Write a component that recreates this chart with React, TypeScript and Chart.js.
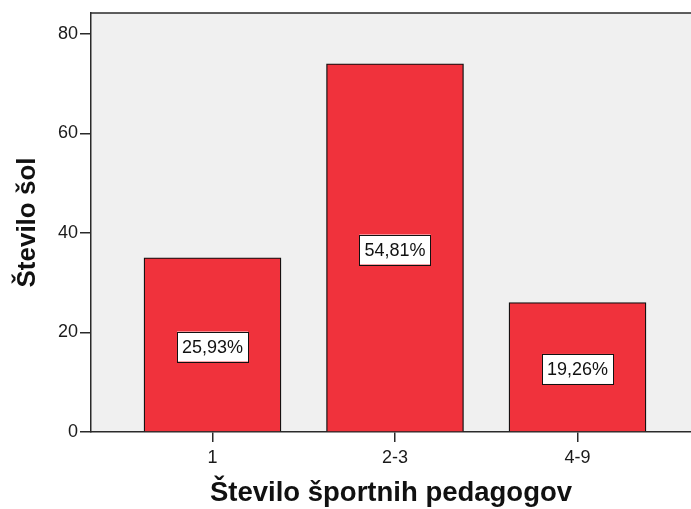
import React, { useEffect, useRef } from "react";
import { Chart, registerables } from "chart.js";

Chart.register(...registerables);

const categories = ["1", "2-3", "4-9"];
const counts = [35, 74, 26];
const percentLabels = ["25,93%", "54,81%", "19,26%"];
const yTicks = [0, 20, 40, 60, 80];
const xTitle = "Število športnih pedagogov";
const yTitle = "Število šol";

const FONT = "'Liberation Sans', Arial, sans-serif";

const backgroundPlugin = {
  id: "plotBg",
  beforeDraw(chart: any) {
    const { ctx, chartArea } = chart;
    ctx.save();
    ctx.fillStyle = "#f0f0f0";
    ctx.fillRect(chartArea.left, chartArea.top, chartArea.right - chartArea.left, chartArea.bottom - chartArea.top);
    ctx.strokeStyle = "#2a2a2a";
    ctx.lineWidth = 1.5;
    ctx.beginPath();
    ctx.moveTo(chartArea.left, chartArea.top);
    ctx.lineTo(chartArea.right, chartArea.top);
    ctx.stroke();
    ctx.restore();
  },
};

const labelPlugin = {
  id: "pctLabels",
  afterDatasetsDraw(chart: any) {
    const { ctx } = chart;
    const meta = chart.getDatasetMeta(0);
    ctx.save();
    ctx.font = `18px ${FONT}`;
    ctx.textAlign = "center";
    ctx.textBaseline = "middle";
    meta.data.forEach((bar: any, i: number) => {
      const text = percentLabels[i];
      const cx = bar.x;
      const cy = (bar.y + bar.base) / 2 + 2;
      const w = ctx.measureText(text).width + 10;
      const h = 30;
      ctx.fillStyle = "#ffffff";
      ctx.fillRect(cx - w / 2, cy - h / 2, w, h);
      ctx.strokeStyle = "#111";
      ctx.lineWidth = 1;
      ctx.strokeRect(Math.round(cx - w / 2) + 0.5, Math.round(cy - h / 2) + 0.5, Math.round(w), h);
      ctx.fillStyle = "#111";
      ctx.fillText(text, cx, cy + 1);
    });
    ctx.restore();
  },
};

export default function App() {
  const ref = useRef<HTMLCanvasElement | null>(null);
  useEffect(() => {
    if (!ref.current) return;
    const chart = new Chart(ref.current, {
      type: "bar",
      data: {
        datasets: [
          {
            data: counts.map((v, i) => ({ x: i, y: v })),
            backgroundColor: "#f0323c",
            borderColor: "#111",
            borderWidth: 1.3,
            barThickness: 137,
          },
        ],
      },
      options: {
        animation: false,
        responsive: false,
        layout: { padding: { top: 13, left: 0, right: 0, bottom: 0 } },
        plugins: { legend: { display: false }, tooltip: { enabled: false } },
        scales: {
          x: {
            type: "linear",
            offset: false,
            min: (91 - 212.5) / 182.5,
            max: (691 - 212.5) / 182.5,
            afterBuildTicks: (s: any) => {
              s.ticks = categories.map((_, i) => ({ value: i }));
            },
            afterFit: (s: any) => {
              s.height = 77;
            },
            grid: { offset: false, drawOnChartArea: false, drawTicks: true, tickLength: 10, color: "#2a2a2a", lineWidth: 1.5 },
            border: { color: "#2a2a2a", width: 1.5 },
            ticks: {
              padding: 5,
              color: "#1a1a1a",
              font: { family: FONT, size: 18 },
              callback: (v: any) => categories[v as number],
              maxRotation: 0,
              autoSkip: false,
            },
            title: {
              display: true,
              text: xTitle,
              color: "#111",
              font: { family: FONT, size: 27.5, weight: "bold" },
              padding: { top: 0, bottom: -1 },
            },
          },
          y: {
            min: 0,
            max: 80 + 21 / 4.975,
            afterBuildTicks: (s: any) => {
              s.ticks = yTicks.map((v) => ({ value: v }));
            },
            afterFit: (s: any) => {
              s.width = 91;
            },
            grid: { drawOnChartArea: false, drawTicks: true, tickLength: 11, color: "#2a2a2a", lineWidth: 1.5 },
            border: { color: "#2a2a2a", width: 1.5 },
            ticks: {
              padding: 2,
              color: "#1a1a1a",
              font: { family: FONT, size: 18 },
            },
            title: {
              display: true,
              text: yTitle,
              color: "#111",
              font: { family: FONT, size: 26, weight: "bold" },
              padding: { top: 12, bottom: 0 },
            },
          },
        },
      },
      plugins: [backgroundPlugin, labelPlugin],
    });
    return () => chart.destroy();
  }, []);
  return (
    <div style={{ position: "fixed", left: 0, top: 0, width: 691, height: 509 }}>
      <canvas ref={ref} width={691} height={509} style={{ display: "block" }} />
    </div>
  );
}
